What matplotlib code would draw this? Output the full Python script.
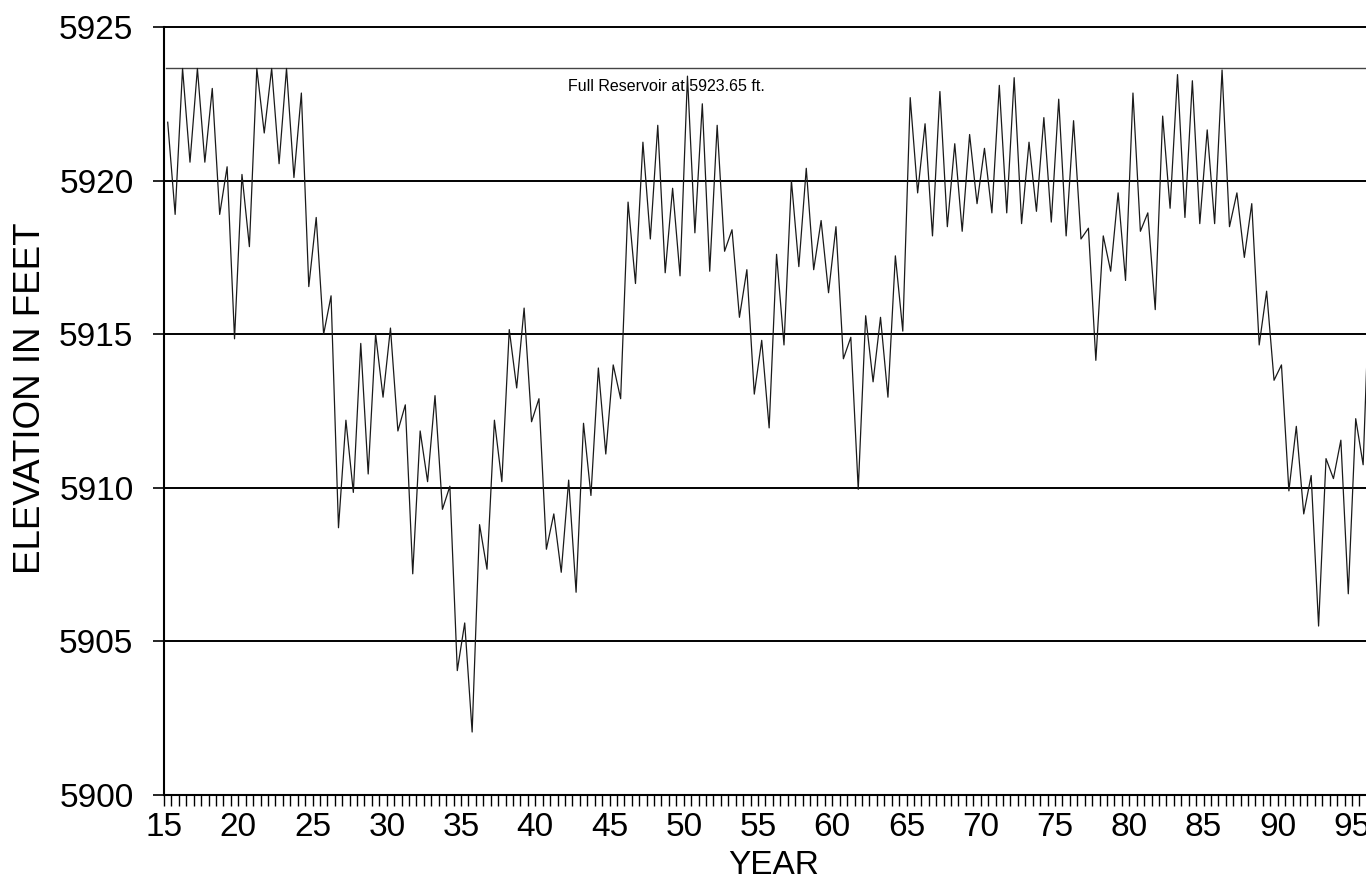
import numpy as np
import matplotlib
matplotlib.use("Agg")
import matplotlib.pyplot as plt
from matplotlib.ticker import MultipleLocator

plt.rcParams['font.family'] = ['Liberation Sans', 'DejaVu Sans']

# Semi-annual reservoir elevations (ft), starting at year 15.25, step 0.5 yr
start_year = 15.25
step_year = 0.5
elevation = [
    5921.9, 5918.9, 5923.65, 5920.6, 5923.65, 5920.6, 5923.0, 5918.9, 5920.45, 5914.85,
    5920.2, 5917.85, 5923.65, 5921.55, 5923.65, 5920.55, 5923.65, 5920.1, 5922.85, 5916.55,
    5918.8, 5915.0, 5916.25, 5908.7, 5912.2, 5909.85, 5914.7, 5910.45, 5915.0, 5912.95,
    5915.2, 5911.85, 5912.7, 5907.2, 5911.85, 5910.2, 5913.0, 5909.3, 5910.05, 5904.05,
    5905.6, 5902.05, 5908.8, 5907.35, 5912.2, 5910.2, 5915.15, 5913.25, 5915.85, 5912.15,
    5912.9, 5908.0, 5909.15, 5907.25, 5910.25, 5906.6, 5912.1, 5909.75, 5913.9, 5911.1,
    5914.0, 5912.9, 5919.3, 5916.65, 5921.25, 5918.1, 5921.8, 5917.0, 5919.75, 5916.9,
    5923.4, 5918.3, 5922.5, 5917.05, 5921.8, 5917.7, 5918.4, 5915.55, 5917.1, 5913.05,
    5914.8, 5911.95, 5917.6, 5914.65, 5920.0, 5917.2, 5920.4, 5917.1, 5918.7, 5916.35,
    5918.5, 5914.2, 5914.9, 5909.95, 5915.6, 5913.45, 5915.55, 5912.95, 5917.55, 5915.1,
    5922.7, 5919.6, 5921.85, 5918.2, 5922.9, 5918.5, 5921.2, 5918.35, 5921.5, 5919.25,
    5921.05, 5918.95, 5923.1, 5918.95, 5923.35, 5918.6, 5921.25, 5919.0, 5922.05, 5918.65,
    5922.65, 5918.2, 5921.95, 5918.1, 5918.45, 5914.15, 5918.2, 5917.05, 5919.6, 5916.75,
    5922.85, 5918.35, 5918.95, 5915.8, 5922.1, 5919.1, 5923.45, 5918.8, 5923.25, 5918.6,
    5921.65, 5918.6, 5923.6, 5918.5, 5919.6, 5917.5, 5919.25, 5914.65, 5916.4, 5913.5,
    5914.0, 5909.9, 5912.0, 5909.15, 5910.4, 5905.5, 5910.95, 5910.3, 5911.55, 5906.55,
    5912.25, 5910.75, 5917.5,
]
full_reservoir = 5923.65
full_label = "Full Reservoir at 5923.65 ft."
y_ticks = [5900, 5905, 5910, 5915, 5920, 5925]
x_ticks = [15, 20, 25, 30, 35, 40, 45, 50, 55, 60, 65, 70, 75, 80, 85, 90, 95]

years = start_year + step_year * np.arange(len(elevation))

W, H = 1366, 883
fig = plt.figure(figsize=(W / 100, H / 100), dpi=100)
ax_left, ax_right, ax_top, ax_bottom = 164, 1366, 27, 795
ax = fig.add_axes([ax_left / W, (H - ax_bottom) / H,
                   (ax_right - ax_left) / W, (ax_bottom - ax_top) / H])

px_per_year = 14.85
ax.set_xlim(15, 15 + (ax_right - ax_left) / px_per_year)
ax.set_ylim(5900, 5925)

# gridlines
for yv in y_ticks[1:]:
    ax.axhline(yv, color='black', lw=1.4, zorder=1, clip_on=False)

# full reservoir line
ax.axhline(full_reservoir, xmin=0.002, color='#444444', lw=1.0, zorder=2)
ax.text(42.2, 5923.06, full_label, ha='left', va='center', fontsize=11.5,
        color='black', zorder=3)

# data line
ax.plot(years, elevation, color='#1a1a1a', lw=0.9, zorder=4)

# spines
for s in ['top', 'right']:
    ax.spines[s].set_visible(False)
ax.spines['left'].set_linewidth(1.5)
ax.spines['bottom'].set_linewidth(1.5)

ax.set_yticks(y_ticks)
ax.set_yticklabels([str(v) for v in y_ticks])
ax.set_xticks(x_ticks)
ax.set_xticklabels([str(v) for v in x_ticks])
ax.xaxis.set_minor_locator(MultipleLocator(0.5))

ax.tick_params(axis='y', which='major', direction='out', length=8, width=1.2,
               labelsize=24, pad=14)
ax.tick_params(axis='x', which='major', direction='out', length=8, width=1.0,
               labelsize=24, pad=4)
ax.tick_params(axis='x', which='minor', direction='out', length=8, width=1.0)

ax.set_xlabel('YEAR', fontsize=24)
ax.xaxis.set_label_coords((774 - ax_left) / (ax_right - ax_left),
                          (ax_bottom - 865) / (ax_bottom - ax_top))
ax.xaxis.label.set_va('center')
ax.set_ylabel('ELEVATION IN FEET', fontsize=26.5)
ax.yaxis.set_label_coords((31 - ax_left) / (ax_right - ax_left),
                          (ax_bottom - 398) / (ax_bottom - ax_top))
ax.yaxis.label.set_va('center')

fig.savefig('out.png', dpi=100)
